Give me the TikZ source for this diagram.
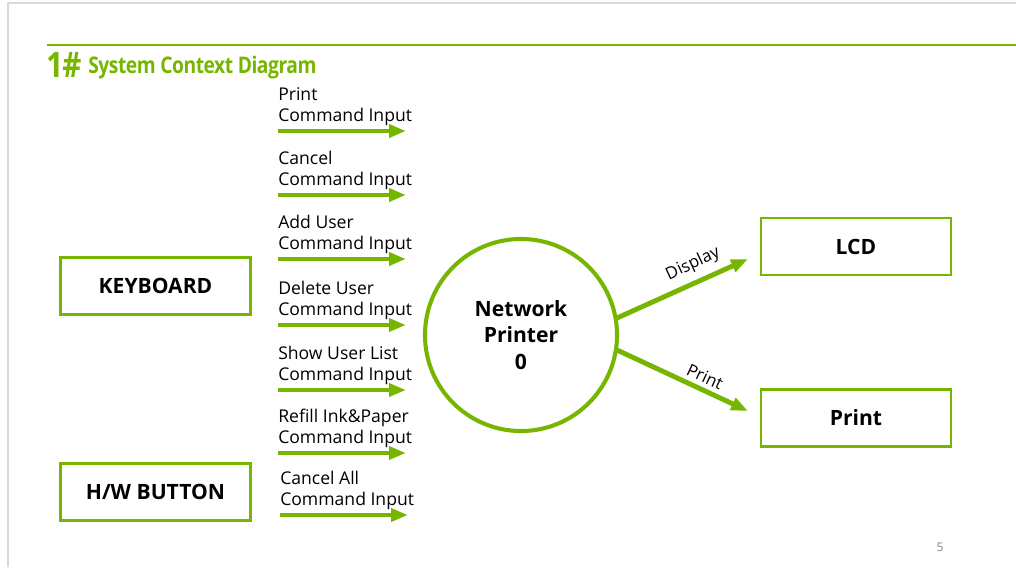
\documentclass[tikz,border=0pt]{standalone}
\usepackage{fontspec}
\setmainfont{Open Sans}
\newfontfamily\titlefont[FakeStretch=0.84,LetterSpace=-2]{Open Sans}
\usetikzlibrary{arrows.meta}
\definecolor{pgreen}{RGB}{118,182,0}
\definecolor{framegray}{RGB}{217,217,217}

\begin{document}
\begin{tikzpicture}
[
x=0.025cm, y=-0.025cm,
flow/.style={draw=pgreen,line width=3.5pt,-{Triangle[length=12pt,width=9pt]}},
cmdlabel/.style={anchor=south west,inner sep=0pt,align=left,font=\fontsize{12.5}{15}\selectfont},
extbox/.style={draw=pgreen,line width=1.6pt,minimum width=4.75cm,minimum height=1.43cm,font=\fontsize{15}{18}\selectfont\bfseries},
proc/.style={draw=pgreen,line width=2.9pt,circle,minimum size=4.8cm,align=center,font=\fontsize{15}{19}\selectfont\bfseries},
flowlabel/.style={font=\fontsize{12}{14}\selectfont,inner sep=1pt},
]
\useasboundingbox (0,0) rectangle (1016,567);

%Slide frame and title
\draw[framegray,line width=0.8pt] (1016,3) -- (8,3) -- (8,567);
\draw[pgreen,line width=1.6pt] (47,45) -- (1016,45);
\node[anchor=base west,inner sep=0pt,text=pgreen,font=\titlefont\fontsize{25}{25}\selectfont\bfseries] (num) at (46,77) {1\#};
\node[anchor=base west,inner sep=0pt,text=pgreen,font=\titlefont\fontsize{16.3}{18}\selectfont\bfseries] (title) at (88,73) {System Context Diagram};
\node[text=gray,font=\fontsize{8.5}{9}\selectfont] (page) at (940,547) {5};

%Place the nodes
\node[extbox] (kb) at (155.5,286) {KEYBOARD};
\node[extbox] (hw) at (155.5,492) {H/W BUTTON};
\node[extbox] (lcd) at (856,246.5) {LCD};
\node[extbox] (prt) at (856,418) {Print};
\node[proc] (np) at (521,335) {Network\\Printer\\0};

%Command inputs
\coordinate (c1s) at (278,131); \coordinate (c1e) at (406,131);
\coordinate (c2s) at (278,195); \coordinate (c2e) at (406,195);
\coordinate (c3s) at (278,259); \coordinate (c3e) at (406,259);
\coordinate (c4s) at (278,325); \coordinate (c4e) at (406,325);
\coordinate (c5s) at (278,390); \coordinate (c5e) at (406,390);
\coordinate (c6s) at (278,453); \coordinate (c6e) at (406,453);
\coordinate (c7s) at (280,515); \coordinate (c7e) at (408,515);

\node[cmdlabel] (l1) at (278,126) {Print\\Command Input};
\node[cmdlabel] (l2) at (278,190) {Cancel\\Command Input};
\node[cmdlabel] (l3) at (278,254) {Add User\\Command Input};
\node[cmdlabel] (l4) at (278,320) {Delete User\\Command Input};
\node[cmdlabel] (l5) at (278,385) {Show User List\\Command Input};
\node[cmdlabel] (l6) at (278,448) {Refill Ink\&Paper\\Command Input};
\node[cmdlabel] (l7) at (280,510) {Cancel All\\Command Input};

\draw[flow] (c1s) -- (c1e);
\draw[flow] (c2s) -- (c2e);
\draw[flow] (c3s) -- (c3e);
\draw[flow] (c4s) -- (c4e);
\draw[flow] (c5s) -- (c5e);
\draw[flow] (c6s) -- (c6e);
\draw[flow] (c7s) -- (c7e);

%Outputs
\coordinate (o1s) at (617,318); \coordinate (o1e) at (748,259);
\coordinate (o2s) at (617,350); \coordinate (o2e) at (748,411);
\draw[flow] (o1s) -- (o1e);
\draw[flow] (o2s) -- (o2e);
\node[flowlabel,rotate=25] (dl) at (693,264) {Display};
\node[flowlabel,rotate=-25] (pl) at (705,377) {Print};
\end{tikzpicture}
\end{document}
